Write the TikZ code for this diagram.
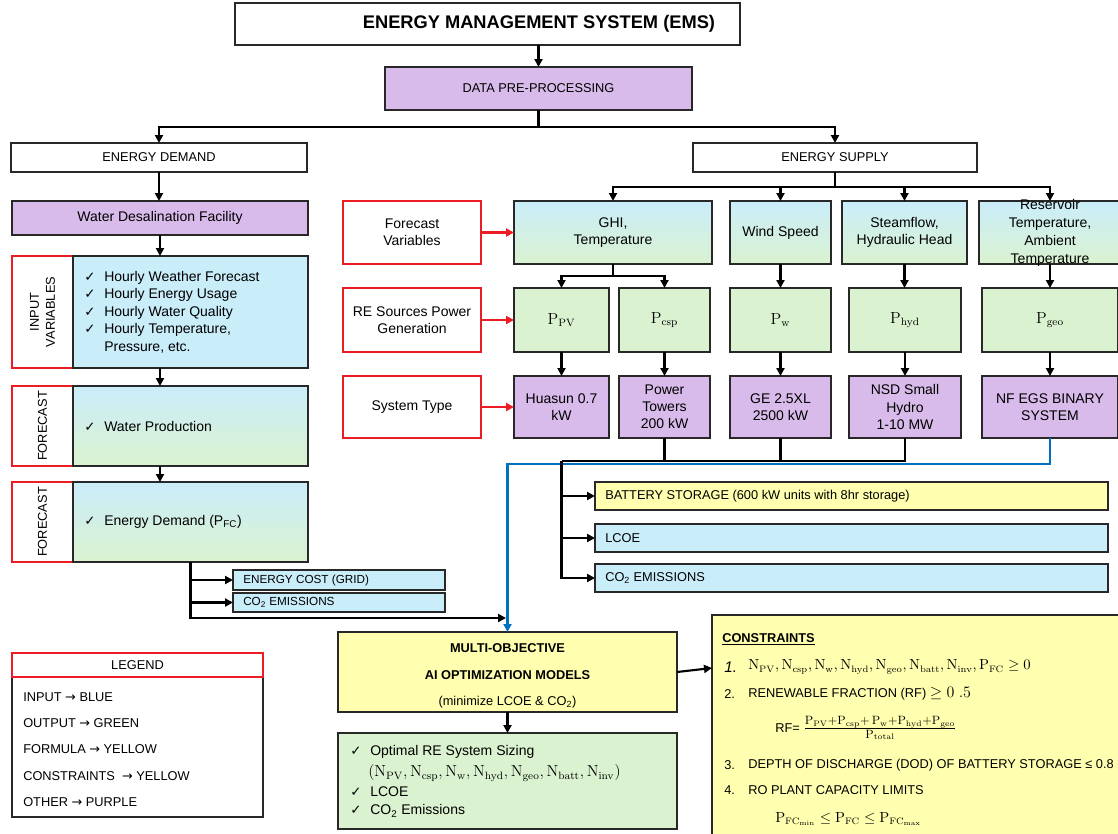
\documentclass[tikz,border=0pt]{standalone}
\usepackage{amsmath}
\usepackage[no-math]{fontspec}
\setmainfont{Liberation Sans}
\newfontfamily\dejavu{DejaVu Sans}
\usetikzlibrary{arrows.meta}
\definecolor{purp}{RGB}{216,187,234}
\definecolor{blu}{RGB}{202,237,250}
\definecolor{grn}{RGB}{218,242,208}
\definecolor{yel}{RGB}{255,255,175}
\definecolor{bord}{RGB}{40,40,40}
\definecolor{rd}{RGB}{236,28,36}
\definecolor{bl}{RGB}{0,112,192}
\newcommand\fsA{\fontsize{10.5}{12.8}\selectfont}
\newcommand\fsB{\fontsize{9.6}{12}\selectfont}
\newcommand\fsC{\fontsize{8.8}{10}\selectfont}
\newcommand\fsT{\fontsize{13.7}{15}\selectfont\bfseries}
\newcommand\fsM{\fontsize{11.5}{13}\selectfont}
\newcommand\fsN{\fontsize{10.5}{13}\selectfont}
\newcommand\mychk{{\dejavu\fontsize{10}{10}\selectfont ✓}}
\newcommand\mychkit[1]{\makebox[15pt][l]{\mychk}#1}
\newcommand\myarr{{\dejavu →}}
\tikzset{
  bx/.style={draw=bord, line width=1pt, outer sep=0pt, inner sep=2pt, align=center, font=\fsA, anchor=north west},
  sz/.style 2 args={minimum width=#1*0.75pt, minimum height=#2*0.75pt},
  rbx/.style={bx, draw=rd},
  pur/.style={fill=purp},
  grad/.style={top color=blu, bottom color=grn},
  conn/.style={line width=1.6pt, draw=black},
  arr/.style={conn, -{Triangle[length=6pt,width=6pt]}},
  rarr/.style={line width=1.6pt, draw=rd, -{Triangle[length=6pt,width=6pt]}},
  barr/.style={line width=1.6pt, draw=bl, -{Triangle[length=6pt,width=6pt]}},
  txt/.style={anchor=west, inner sep=0pt, align=left},
  vlbl/.style={anchor=center, inner sep=0pt, align=center, rotate=90, font=\fsB},
}
\begin{document}
\begin{tikzpicture}[x=0.75pt,y=-0.75pt]
\useasboundingbox (0,0) rectangle (1118,833);
\clip (0,0) rectangle (1118,833);
% top
\node[bx, sz={505}{42}] (title) at (235,3) {};
\node[anchor=center, inner sep=0pt, font=\fsT] at ([xshift=38.6pt]title.center) {ENERGY MANAGEMENT SYSTEM (EMS)};
\node[bx, pur, sz={307}{43}, font=\fsB] (dpp) at (385,67) {DATA PRE-PROCESSING};
\node[bx, sz={296}{29}, font=\fsB] (edem) at (11,143) {ENERGY DEMAND};
\node[bx, sz={284}{29}, font=\fsB] (esup) at (693,143) {ENERGY SUPPLY};
% left column
\node[bx, pur, sz={296}{34}] (wdf) at (12,201) {Water Desalination Facility};
\node[rbx, sz={61}{112}] (ivl) at (12,256) {};
\node[bx, fill=blu, sz={235}{112}] (iv) at (73,256) {};
\node[rbx, sz={61}{80}] (f1l) at (12,386) {};
\node[bx, grad, sz={235}{80}] (f1) at (73,386) {};
\node[rbx, sz={61}{80}] (f2l) at (12,482) {};
\node[bx, grad, sz={235}{80}] (f2) at (73,482) {};
\node[bx, fill=blu, sz={212}{20}] (ecost) at (233,570) {};
\node[bx, fill=blu, sz={212}{19}] (eco2) at (233,593) {};
\node[vlbl] at (ivl.center) {INPUT\\VARIABLES};
\node[vlbl] at (f1l.center) {FORECAST};
\node[vlbl] at (f2l.center) {FORECAST};
\node[txt, font={\fontsize{10.5}{13.1}\selectfont}] at ([xshift=8.25pt]iv.west) {\mychkit{Hourly Weather Forecast}\\\mychkit{Hourly Energy Usage}\\\mychkit{Hourly Water Quality}\\\mychkit{Hourly Temperature,}\\\hspace*{15pt}Pressure, etc.};
\node[txt, font=\fsA] at ([xshift=8.25pt]f1.west) {\mychkit{Water Production}};
\node[txt, font=\fsA] at ([xshift=8.25pt]f2.west) {\mychkit{Energy Demand (P\textsubscript{FC})}};
\node[txt, font=\fsC] at ([xshift=7.5pt]ecost.west) {ENERGY COST (GRID)};
\node[txt, font=\fsC] at ([xshift=7.5pt]eco2.west) {CO\textsubscript{2} EMISSIONS};
% supply side
\node[rbx, sz={138}{63}] (fv) at (343,201) {Forecast\\Variables};
\node[rbx, sz={138}{64}] (res) at (343,288) {RE Sources Power\\Generation};
\node[rbx, sz={138}{62}] (st) at (343,376) {System Type};
\node[bx, grad, sz={198}{63}] (ghi) at (514,201) {GHI,\\Temperature};
\node[bx, grad, sz={101}{63}] (wind) at (730,201) {Wind Speed};
\node[bx, grad, sz={125}{63}] (steam) at (842,201) {Steamflow,\\Hydraulic Head};
\node[bx, grad, sz={142}{63}] (resv) at (979,201) {};
\node[anchor=center, inner sep=0pt, align=center, font={\fontsize{10.5}{13.5}\selectfont}] at (resv.center) {Reservoir\\Temperature,\\Ambient\\Temperature};
\node[bx, fill=grn, sz={95}{64}, font=\fsM] (ppv) at (514,288) {$\mathrm{P_{PV}}$};
\node[bx, fill=grn, sz={91}{64}, font=\fsM] (pcsp) at (619,288) {$\mathrm{P_{csp}}$};
\node[bx, fill=grn, sz={101}{64}, font=\fsM] (pw) at (730,288) {$\mathrm{P_{w}}$};
\node[bx, fill=grn, sz={112}{64}, font=\fsM] (phyd) at (849,288) {$\mathrm{P_{hyd}}$};
\node[bx, fill=grn, sz={136}{64}, font=\fsM] (pgeo) at (982,288) {$\mathrm{P_{geo}}$};
\node[bx, pur, sz={95}{62}] (hua) at (514,376) {Huasun 0.7\\kW};
\node[bx, pur, sz={91}{62}] (ptw) at (619,376) {Power\\Towers\\200 kW};
\node[bx, pur, sz={101}{62}] (ge) at (730,376) {GE 2.5XL\\2500 kW};
\node[bx, pur, sz={112}{62}] (nsd) at (849,376) {NSD Small\\Hydro\\1-10 MW};
\node[bx, pur, sz={136}{62}] (nf) at (982,376) {NF EGS BINARY\\SYSTEM};
\node[bx, fill=yel, sz={513}{28}] (batt) at (595,482) {};
\node[bx, fill=blu, sz={513}{28}] (lcoe) at (595,524) {};
\node[bx, fill=blu, sz={513}{28}] (co2b) at (595,564) {};
\node[txt, font=\fsB] at ([xshift=7.5pt]batt.west) {BATTERY STORAGE (600 kW units with 8hr storage)};
\node[txt, font=\fsB] at ([xshift=7.5pt]lcoe.west) {LCOE};
\node[txt, font=\fsB] at ([xshift=7.5pt]co2b.west) {CO\textsubscript{2} EMISSIONS};
% optimisation
\node[bx, fill=yel, sz={339}{80}] (moo) at (338,632) {};
\node[anchor=center, inner sep=0pt, align=center, font={\fontsize{9.6}{20}\selectfont}] at ([yshift=-3pt]moo.center) {\textbf{MULTI-OBJECTIVE}\\\textbf{AI OPTIMIZATION MODELS}\\(minimize LCOE \& CO\textsubscript{2})};
\node[bx, fill=grn, sz={339}{96}] (out) at (338,733) {};
\node[txt, font=\fsA] at (350,752) {\mychkit{Optimal RE System Sizing}};
\node[txt, font=\fsM] at (368,773) {$(\mathrm{N_{PV}, N_{csp}, N_{w}, N_{hyd}, N_{geo}, N_{batt}, N_{inv}})$};
\node[txt, font=\fsA] at (350,792) {\mychkit{LCOE}};
\node[txt, font=\fsA] at (350,811) {\mychkit{CO\textsubscript{2} Emissions}};
\node[bx, fill=yel, sz={430}{240}] (cons) at (712,615) {};
\node[txt, font=\fsB] at (722,639) {\underline{\textbf{CONSTRAINTS}}};
\node[txt, font=\fsM] at (724,667) {\textit{1.}};
\node[txt, font=\fsN] at (748,667) {$\mathrm{N_{PV}, N_{csp}, N_{w}, N_{hyd}, N_{geo}, N_{batt}, N_{inv}, P_{FC}} \geq 0$};
\node[txt, font=\fsB] at (724,694) {2.};
\node[txt, font=\fsB] at (748,694) {RENEWABLE FRACTION (RF) {\fsM$\geq 0\ .5$}};
\node[txt, font=\fsB] at (775,728) {RF= {\fontsize{12.5}{14}\selectfont$\frac{\mathrm{P_{PV}+P_{csp}+\,P_{w}+P_{hyd}+P_{geo}}}{\mathrm{P_{total}}}$}};
\node[txt, font=\fsB] at (724,765) {3.};
\node[txt, font=\fsB] at (748,765) {DEPTH OF DISCHARGE (DOD) OF BATTERY STORAGE ≤ 0.8};
\node[txt, font=\fsB] at (724,790) {4.};
\node[txt, font=\fsB] at (748,790) {RO PLANT CAPACITY LIMITS};
\node[txt, font=\fsN] at (775,819) {$\mathrm{P_{FC_{min}}} \leq \mathrm{P_{FC}} \leq \mathrm{P_{FC_{max}}}$};
% legend
\node[bx, sz={251}{140}] (lgb) at (12,677) {};
\node[rbx, sz={251}{24}, font=\fsB] (lgh) at (12,653) {LEGEND};
\node[txt, font=\fsB] at (23,697) {INPUT \myarr{} BLUE};
\node[txt, font=\fsB] at (23,723) {OUTPUT \myarr{} GREEN};
\node[txt, font=\fsB] at (23,749) {FORMULA \myarr{} YELLOW};
\node[txt, font=\fsB] at (23,776) {CONSTRAINTS \ \myarr{} YELLOW};
\node[txt, font=\fsB] at (23,802) {OTHER \myarr{} PURPLE};
% connectors
\draw[arr] (title.south -| dpp.north) -- (dpp.north);
\coordinate (dj) at (538.5,127);
\draw[conn] (dpp.south) -- (dj);
\draw[arr, line width=2.2pt] (dj) -| (edem.north);
\draw[arr, line width=2.2pt] (dj) -| (esup.north);
\coordinate (sj) at (835,187);
\draw[conn] (esup.south) -- (sj);
\draw[arr, line width=2.2pt] (sj) -| (ghi.north);
\draw[arr, line width=2.2pt] (sj) -| (wind.north);
\draw[arr, line width=2.2pt] (sj) -| (steam.north);
\draw[arr, line width=2.2pt] (sj) -| (resv.north);
\coordinate (gj) at (613,276);
\draw[conn] (ghi.south) -- (gj);
\draw[arr] (gj) -| (ppv.north);
\draw[arr] (gj) -| (pcsp.north);
\draw[arr] (wind.south) -- (pw.north);
\draw[arr] (steam.south) -- (steam.south |- phyd.north);
\draw[arr] (resv.south) -- (pgeo.north);
\draw[arr] (ppv.south) -- (hua.north);
\draw[arr] (pcsp.south) -- (ptw.north);
\draw[arr] (pw.south) -- (ge.north);
\draw[arr] (phyd.south) -- (nsd.north);
\draw[arr] (pgeo.south) -- (nf.north);
\draw[rarr] (fv.east) -- (ghi.west);
\draw[rarr] (res.east) -- (ppv.west);
\draw[rarr] (st.east) -- (hua.west);
\coordinate (bj) at (561.5,461);
\draw[barr] (nf.south) -- ++(0,26) -| (moo.north);
\draw[conn] (ptw.south) |- (bj);
\draw[conn] (ge.south) |- (bj);
\draw[conn] (nsd.south) |- (bj);
\draw[arr] (bj) |- (batt.west);
\draw[arr] (bj) |- (lcoe.west);
\draw[arr] (bj) |- (co2b.west);
\draw[arr] (edem.south) -- (edem.south |- wdf.north);
\draw[arr] (wdf.south) -- (wdf.south |- iv.north);
\draw[arr] (wdf.south |- iv.south) -- (wdf.south |- f1.north);
\draw[arr] (wdf.south |- f1.south) -- (wdf.south |- f2.north);
\coordinate (mj) at (506,618);
\draw[arr] (f2.south) |- (ecost.west);
\draw[arr] (f2.south) |- (eco2.west);
\draw[arr] (f2.south) |- (mj);
\draw[arr] (moo.south) -- (out.north);
\coordinate (cin) at (712,668);
\draw[arr] (moo.east) -- (cin);
\end{tikzpicture}
\end{document}
